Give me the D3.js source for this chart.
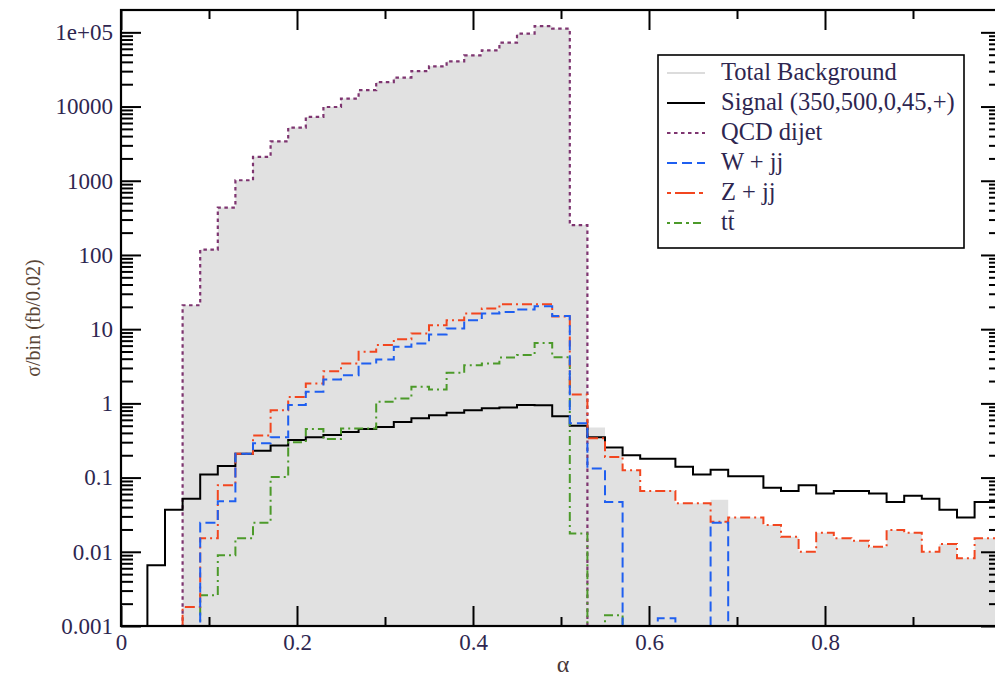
<!DOCTYPE html>
<meta charset="utf-8">
<script src="https://d3js.org/d3.v7.min.js"></script>
<style>
  body { margin: 0; background: #fff; }
  text { font-family: "Liberation Serif", "Times New Roman", serif; }
</style>
<svg id="chart" width="995" height="676"></svg>
<script>
// bin centres (bin width 0.02)
const alpha = [0, 0.02, 0.04, 0.06, 0.08, 0.10, 0.12, 0.14, 0.16, 0.18,
  0.20, 0.22, 0.24, 0.26, 0.28, 0.30, 0.32, 0.34, 0.36, 0.38,
  0.40, 0.42, 0.44, 0.46, 0.48, 0.50, 0.52, 0.54, 0.56, 0.58,
  0.60, 0.62, 0.64, 0.66, 0.68, 0.70, 0.72, 0.74, 0.76, 0.78,
  0.80, 0.82, 0.84, 0.86, 0.88, 0.90, 0.92, 0.94, 0.96, 0.98, 1.00];

const signal = [0, 0, 0.0066, 0.037, 0.052, 0.11, 0.143, 0.21, 0.23, 0.27,
  0.32, 0.35, 0.375, 0.41, 0.45, 0.48, 0.56, 0.63, 0.69, 0.75,
  0.81, 0.86, 0.88, 0.95, 0.94, 0.67, 0.5, 0.35, 0.255, 0.2,
  0.18, 0.18, 0.14, 0.11, 0.128, 0.104, 0.104, 0.073, 0.066, 0.079,
  0.061, 0.066, 0.066, 0.061, 0.047, 0.057, 0.052, 0.037, 0.029, 0.047, 0.047];

const qcd = [0, 0, 0, 0, 21, 118, 435, 1016, 2100, 3400,
  5200, 7250, 9860, 12800, 16600, 21400, 24500, 30100, 34800, 40700,
  49000, 57300, 72600, 95900, 121600, 112000, 252, 0, 0, 0,
  0, 0, 0, 0, 0, 0, 0, 0, 0, 0,
  0, 0, 0, 0, 0, 0, 0, 0, 0, 0, 0];

const wjj = [0, 0, 0, 0, 0, 0.0247, 0.048, 0.21, 0.29, 0.35,
  0.95, 1.43, 2.1, 2.4, 3.45, 3.9, 5.8, 6.4, 8.5, 10.2,
  13.2, 16.3, 17.1, 18.4, 20.4, 15.0, 0.54, 0.133, 0.047, 0,
  0, 0.00127, 0, 0, 0.0247, 0, 0, 0, 0, 0,
  0, 0, 0, 0, 0, 0, 0, 0, 0, 0, 0];

const zjj = [0, 0, 0, 0, 0.0018, 0.0152, 0.079, 0.21, 0.37, 0.81,
  1.22, 1.85, 2.7, 3.45, 4.95, 6.1, 7.3, 8.75, 11.3, 13.2,
  16.3, 19.0, 21.7, 21.7, 21.7, 14.8, 1.32, 0.34, 0.19, 0.126,
  0.066, 0.066, 0.045, 0.045, 0.0254, 0.029, 0.029, 0.023, 0.016, 0.010,
  0.018, 0.0152, 0.0141, 0.0117, 0.0196, 0.018, 0.010, 0.0127, 0.0082, 0.0152, 0.0152];

const ttbar = [0, 0, 0, 0, 0, 0.0026, 0.009, 0.0152, 0.0247, 0.102,
  0.30, 0.45, 0.33, 0.46, 0.46, 1.05, 1.16, 1.67, 1.54, 2.58,
  3.27, 3.45, 4.16, 4.47, 6.5, 4.2, 0.0177, 0, 0.0014, 0,
  0, 0, 0, 0, 0, 0, 0, 0, 0, 0,
  0, 0, 0, 0, 0, 0, 0, 0, 0, 0, 0];

const yTickValues = [0.001, 0.01, 0.1, 1, 10, 100, 1000, 10000, 100000];
const yTickLabels = ["0.001", "0.01", "0.1", "1", "10", "100", "1000", "10000", "1e+05"];
const xTickValues = [0, 0.2, 0.4, 0.6, 0.8, 1];
const xTickLabels = ["0", "0.2", "0.4", "0.6", "0.8", ""];

const legendNames = ["Total Background", "Signal (350,500,0,45,+)", "QCD dijet", "W + jj", "Z + jj", "tt"];

// total background = sum of the shown backgrounds
const total = alpha.map((a, i) => qcd[i] + wjj[i] + zjj[i] + ttbar[i]);

const svg = d3.select("#chart");
const pLeft = 121, pRight = 1001, pTop = 10, pBottom = 626;
const binW = 0.02;
const labelColor = "#2e2650";

const x = d3.scaleLinear().domain([0, 1]).range([pLeft, pRight]);
const y = d3.scaleLog().domain([0.001, 2e5]).range([pBottom, pTop]);
const floorVal = 1e-5;

svg.append("clipPath").attr("id", "clip")
  .append("rect").attr("x", pLeft).attr("y", pTop)
  .attr("width", pRight - pLeft).attr("height", pBottom - pTop);

function steps(vals) {
  const pts = [];
  alpha.forEach((a, i) => {
    const v = vals[i] > 0 ? vals[i] : floorVal;
    pts.push([a - binW / 2, v]);
    pts.push([a + binW / 2, v]);
  });
  return pts;
}

const plot = svg.append("g").attr("clip-path", "url(#clip)");

// gray total background
plot.append("path")
  .datum(steps(total))
  .attr("fill", "#e1e1e1")
  .attr("d", d3.area()
    .x(d => x(d[0]))
    .y0(pBottom)
    .y1(d => y(d[1])));

const line = d3.line().x(d => x(d[0])).y(d => y(d[1]));

const series = [
  { vals: qcd, color: "#7e3570", dash: "3.5,3.5", w: 2.2 },
  { vals: signal, color: "#000", dash: null, w: 2 },
  { vals: ttbar, color: "#4c9a2a", dash: "9,4,2,4", w: 2 },
  { vals: zjj, color: "#f2461f", dash: "10,4,2,4", w: 2 },
  { vals: wjj, color: "#1f5ff0", dash: "10,5", w: 2 }
];

series.forEach(s => {
  plot.append("path")
    .datum(steps(s.vals))
    .attr("fill", "none")
    .attr("stroke", s.color)
    .attr("stroke-width", s.w)
    .attr("stroke-dasharray", s.dash)
    .attr("d", line);
});

// axes
const fontSize = 23;
function styleAxis(g, labels) {
  g.select(".domain").remove();
  g.selectAll(".tick line").attr("stroke", "#000").attr("stroke-width", 2);
  g.selectAll(".tick text")
    .attr("fill", labelColor)
    .style("font-size", fontSize + "px")
    .style("font-family", '"Liberation Serif", serif');
  if (!labels) g.selectAll(".tick text").remove();
}

const minorY = [];
yTickValues.forEach(d => { for (let m = 2; m <= 9; m++) if (d * m < 2e5) minorY.push(d * m); });
const minorX = [0.1, 0.3, 0.5, 0.7, 0.9];

svg.append("g").attr("transform", `translate(${pLeft},0)`)
  .call(d3.axisLeft(y).tickValues(yTickValues).tickSizeInner(-20).tickSizeOuter(0).tickPadding(8)
    .tickFormat((d, i) => yTickLabels[i]))
  .call(g => styleAxis(g, true));
svg.append("g").attr("transform", `translate(${pLeft},0)`)
  .call(d3.axisLeft(y).tickValues(minorY).tickSizeInner(-12).tickSizeOuter(0))
  .call(g => styleAxis(g, false));

svg.append("g").attr("transform", `translate(${pRight},0)`)
  .call(d3.axisRight(y).tickValues(yTickValues).tickSizeInner(-20).tickSizeOuter(0))
  .call(g => styleAxis(g, false));
svg.append("g").attr("transform", `translate(${pRight},0)`)
  .call(d3.axisRight(y).tickValues(minorY).tickSizeInner(-12).tickSizeOuter(0))
  .call(g => styleAxis(g, false));

svg.append("g").attr("transform", `translate(0,${pBottom})`)
  .call(d3.axisBottom(x).tickValues(xTickValues).tickSizeInner(-20).tickSizeOuter(0).tickPadding(8)
    .tickFormat((d, i) => xTickLabels[i]))
  .call(g => styleAxis(g, true));
svg.append("g").attr("transform", `translate(0,${pBottom})`)
  .call(d3.axisBottom(x).tickValues(minorX).tickSizeInner(-9).tickSizeOuter(0))
  .call(g => styleAxis(g, false));

svg.append("g").attr("transform", `translate(0,${pTop})`)
  .call(d3.axisTop(x).tickValues(xTickValues).tickSizeInner(-20).tickSizeOuter(0))
  .call(g => styleAxis(g, false));
svg.append("g").attr("transform", `translate(0,${pTop})`)
  .call(d3.axisTop(x).tickValues(minorX).tickSizeInner(-9).tickSizeOuter(0))
  .call(g => styleAxis(g, false));

// frame
svg.append("rect")
  .attr("x", pLeft).attr("y", pTop)
  .attr("width", pRight - pLeft).attr("height", pBottom - pTop)
  .attr("fill", "none").attr("stroke", "#000").attr("stroke-width", 2.2);

// axis titles
svg.append("text")
  .attr("x", x(0.5) + 2).attr("y", 672)
  .attr("text-anchor", "middle")
  .attr("fill", "#4a3a3a")
  .style("font-size", "24px")
  .text("α");

svg.append("text")
  .attr("transform", `translate(40,${(pTop + pBottom) / 2}) rotate(-90)`)
  .attr("text-anchor", "middle")
  .attr("fill", "#5a4636")
  .style("font-size", "20px")
  .text("σ/bin (fb/0.02)");

// legend
const lg = svg.append("g");
lg.append("rect")
  .attr("x", 658).attr("y", 55).attr("width", 306).attr("height", 193)
  .attr("fill", "#fff").attr("stroke", "#000").attr("stroke-width", 1.6);

const legendStyles = [
  { color: "#dcdcdc", dash: null },
  { color: "#000", dash: null },
  { color: "#7e3570", dash: "3.5,3.5" },
  { color: "#1f5ff0", dash: "10,5" },
  { color: "#f2461f", dash: "4,4,20,4" },
  { color: "#4c9a2a", dash: "3,4,8,4" }
];

legendNames.forEach((name, i) => {
  const yy = 80 + i * 30;
  lg.append("line")
    .attr("x1", 667).attr("x2", 705)
    .attr("y1", yy - 7).attr("y2", yy - 7)
    .attr("stroke", legendStyles[i].color)
    .attr("stroke-width", 2)
    .attr("stroke-dasharray", legendStyles[i].dash);
  const t = lg.append("text")
    .attr("x", 721).attr("y", yy)
    .attr("fill", labelColor)
    .style("font-size", "24.5px")
    .text(name);
  if (name === "tt") {
    // bar over the second t (anti-top)
    const node = t.node();
    const p = node.getStartPositionOfChar(1);
    const w = node.getSubStringLength(1, 1);
    lg.append("line")
      .attr("x1", p.x + 0.5).attr("x2", p.x + w - 0.5)
      .attr("y1", yy - 19).attr("y2", yy - 19)
      .attr("stroke", labelColor).attr("stroke-width", 1.5);
  }
});
</script>
